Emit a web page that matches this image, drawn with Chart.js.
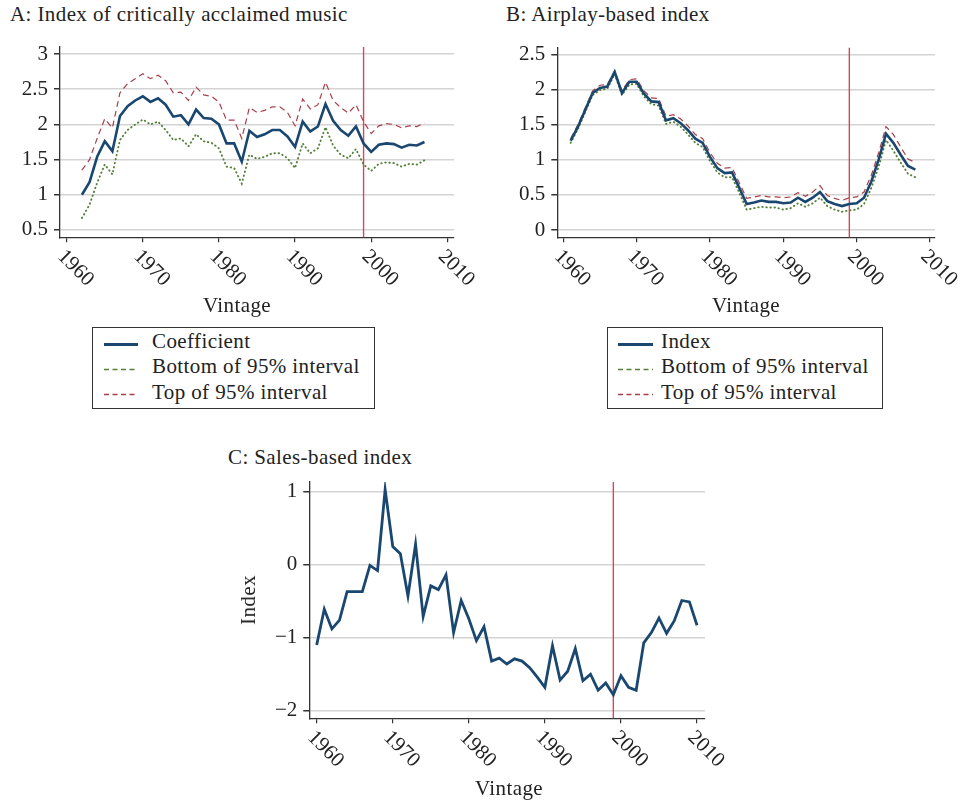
<!DOCTYPE html>
<html>
<head>
<meta charset="utf-8">
<script src="https://cdn.jsdelivr.net/npm/chart.js@4"></script>
<style>
  body { margin: 0; background: #fff; width: 965px; height: 803px; position: relative; overflow: hidden;
         font-family: "Liberation Serif", "Times New Roman", serif; color: #222; }
  canvas { position: absolute; }
  .txt { position: absolute; font-size: 21px; line-height: 24px; white-space: nowrap; letter-spacing: 0.4px; }
  .ctr { text-align: center; width: 120px; }
  .legend { position: absolute; border: 1.5px solid #333; box-sizing: border-box; }
  svg.key { position: absolute; }
</style>
</head>
<body>

<div class="txt" style="left:10px;top:2px">A: Index of critically acclaimed music</div>
<div class="txt" style="left:506px;top:2px">B: Airplay-based index</div>
<div class="txt" style="left:228px;top:445px">C: Sales-based index</div>

<canvas id="chartA" width="485" height="300" style="left:0;top:0"></canvas>
<canvas id="chartB" width="485" height="300" style="left:480px;top:0"></canvas>
<canvas id="chartC" width="530" height="343" style="left:220px;top:460px"></canvas>

<div class="txt ctr" style="left:177px;top:293px">Vintage</div>
<div class="txt ctr" style="left:686px;top:293px">Vintage</div>
<div class="txt ctr" style="left:449px;top:776px">Vintage</div>
<div class="txt" style="left:248px;top:600px;transform:translate(-50%,-50%) rotate(-90deg)">Index</div>

<!-- legend A -->
<div class="legend" style="left:92px;top:327px;width:283px;height:82px"></div>
<svg class="key" style="left:104px;top:341px" width="36" height="7"><line x1="0" y1="3.5" x2="34" y2="3.5" stroke="#1a476f" stroke-width="2.8"/></svg>
<svg class="key" style="left:104px;top:366px" width="36" height="7"><line x1="0" y1="3.5" x2="34" y2="3.5" stroke="#55803a" stroke-width="1.3" stroke-dasharray="5 3.5"/></svg>
<svg class="key" style="left:104px;top:391px" width="36" height="7"><line x1="0" y1="3.5" x2="34" y2="3.5" stroke="#a83f4c" stroke-width="1.3" stroke-dasharray="5 3.5"/></svg>
<div class="txt" style="left:152px;top:329px">Coefficient</div>
<div class="txt" style="left:152px;top:354px">Bottom of 95% interval</div>
<div class="txt" style="left:152px;top:380px">Top of 95% interval</div>

<!-- legend B -->
<div class="legend" style="left:607px;top:327px;width:276px;height:82px"></div>
<svg class="key" style="left:618px;top:341px" width="36" height="7"><line x1="0" y1="3.5" x2="35" y2="3.5" stroke="#1a476f" stroke-width="2.8"/></svg>
<svg class="key" style="left:618px;top:366px" width="36" height="7"><line x1="0" y1="3.5" x2="35" y2="3.5" stroke="#55803a" stroke-width="1.3" stroke-dasharray="5 3.5"/></svg>
<svg class="key" style="left:618px;top:391px" width="36" height="7"><line x1="0" y1="3.5" x2="35" y2="3.5" stroke="#a83f4c" stroke-width="1.3" stroke-dasharray="5 3.5"/></svg>
<div class="txt" style="left:661px;top:329px">Index</div>
<div class="txt" style="left:661px;top:354px">Bottom of 95% interval</div>
<div class="txt" style="left:661px;top:380px">Top of 95% interval</div>

<script>
// ---- data ----
const yearsA = [1962, 1963, 1964, 1965, 1966, 1967, 1968, 1969, 1970, 1971, 1972, 1973, 1974, 1975, 1976, 1977,
  1978, 1979, 1980, 1981, 1982, 1983, 1984, 1985, 1986, 1987, 1988, 1989, 1990, 1991, 1992, 1993, 1994, 1995,
  1996, 1997, 1998, 1999, 2000, 2001, 2002, 2003, 2004, 2005, 2006, 2007];
const coefA = [1.00, 1.18, 1.54, 1.76, 1.62, 2.12, 2.26, 2.34, 2.40, 2.32, 2.37, 2.28, 2.11, 2.13, 2.00, 2.21,
  2.09, 2.08, 2.00, 1.73, 1.73, 1.47, 1.91, 1.82, 1.86, 1.92, 1.92, 1.83, 1.68, 2.04, 1.90, 1.97, 2.29, 2.05,
  1.92, 1.84, 1.97, 1.73, 1.61, 1.71, 1.73, 1.72, 1.67, 1.71, 1.70, 1.75];
const lowA = [0.67, 0.86, 1.17, 1.43, 1.29, 1.78, 1.92, 2.00, 2.07, 2.00, 2.04, 1.92, 1.78, 1.80, 1.69, 1.86,
  1.76, 1.74, 1.66, 1.40, 1.38, 1.16, 1.57, 1.51, 1.54, 1.59, 1.59, 1.52, 1.38, 1.73, 1.59, 1.66, 1.96, 1.70,
  1.57, 1.52, 1.65, 1.43, 1.34, 1.44, 1.46, 1.45, 1.40, 1.44, 1.43, 1.49];
const highA = [1.35, 1.50, 1.80, 2.08, 1.95, 2.45, 2.58, 2.65, 2.72, 2.65, 2.70, 2.62, 2.45, 2.46, 2.34, 2.53,
  2.42, 2.40, 2.32, 2.06, 2.06, 1.80, 2.24, 2.17, 2.20, 2.25, 2.25, 2.17, 1.98, 2.36, 2.22, 2.28, 2.60, 2.34,
  2.24, 2.16, 2.28, 2.04, 1.87, 1.98, 2.01, 2.00, 1.95, 1.98, 1.97, 2.02];

const yearsB = [1961, 1962, 1963, 1964, 1965, 1966, 1967, 1968, 1969, 1970, 1971, 1972, 1973, 1974, 1975, 1976,
  1977, 1978, 1979, 1980, 1981, 1982, 1983, 1984, 1985, 1986, 1987, 1988, 1989, 1990, 1991, 1992, 1993, 1994,
  1995, 1996, 1997, 1998, 1999, 2000, 2001, 2002, 2003, 2004, 2005, 2006, 2007, 2008];
const indexB = [1.27, 1.47, 1.71, 1.95, 2.02, 2.04, 2.25, 1.95, 2.11, 2.11, 1.94, 1.83, 1.82, 1.56, 1.59, 1.52,
  1.42, 1.30, 1.24, 1.04, 0.88, 0.81, 0.82, 0.60, 0.37, 0.39, 0.42, 0.40, 0.40, 0.38, 0.39, 0.46, 0.40, 0.46,
  0.54, 0.41, 0.37, 0.34, 0.37, 0.38, 0.46, 0.69, 1.00, 1.37, 1.24, 1.07, 0.91, 0.86];
const lowB = [1.24, 1.44, 1.68, 1.92, 1.99, 2.01, 2.22, 1.92, 2.07, 2.08, 1.90, 1.79, 1.77, 1.51, 1.54, 1.47,
  1.36, 1.24, 1.18, 0.98, 0.82, 0.75, 0.75, 0.53, 0.29, 0.31, 0.33, 0.32, 0.32, 0.29, 0.31, 0.38, 0.33, 0.38,
  0.46, 0.34, 0.29, 0.26, 0.28, 0.29, 0.37, 0.60, 0.90, 1.28, 1.13, 0.96, 0.80, 0.75];
const highB = [1.30, 1.50, 1.74, 1.98, 2.06, 2.07, 2.26, 1.98, 2.14, 2.15, 1.98, 1.88, 1.87, 1.62, 1.64, 1.58,
  1.48, 1.36, 1.30, 1.10, 0.95, 0.88, 0.89, 0.67, 0.45, 0.47, 0.49, 0.47, 0.47, 0.46, 0.47, 0.53, 0.48, 0.54,
  0.63, 0.49, 0.45, 0.42, 0.46, 0.47, 0.54, 0.78, 1.10, 1.47, 1.36, 1.18, 1.01, 0.96];

const yearsC = [1960, 1961, 1962, 1963, 1964, 1965, 1966, 1967, 1968, 1969, 1970, 1971, 1972, 1973, 1974, 1975,
  1976, 1977, 1978, 1979, 1980, 1981, 1982, 1983, 1984, 1985, 1986, 1987, 1988, 1989, 1990, 1991, 1992, 1993,
  1994, 1995, 1996, 1997, 1998, 1999, 2000, 2001, 2002, 2003, 2004, 2005, 2006, 2007, 2008, 2009, 2010];
const salesC = [-1.10, -0.61, -0.88, -0.76, -0.37, -0.37, -0.37, -0.01, -0.08, 1.03,
  0.25, 0.15, -0.43, 0.28, -0.71, -0.29, -0.34, -0.14, -0.93, -0.49,
  -0.74, -1.04, -0.85, -1.32, -1.28, -1.36, -1.29, -1.32, -1.41, -1.54,
  -1.68, -1.11, -1.58, -1.46, -1.15, -1.59, -1.50, -1.72, -1.62, -1.78,
  -1.52, -1.68, -1.72, -1.07, -0.93, -0.73, -0.94, -0.77, -0.49, -0.51, -0.83];

const xTicks = [1960, 1970, 1980, 1990, 2000, 2010];
const yTicksA = [0.5, 1, 1.5, 2, 2.5, 3];
const yTicksB = [0, 0.5, 1, 1.5, 2, 2.5];
const yTicksC = [-2, -1, 0, 1];
const cutoffYear = 1999;

// ---- styling ----
const FONT = '"Liberation Serif", "Times New Roman", serif';
Chart.defaults.font.family = FONT;
Chart.defaults.font.size = 21;
Chart.defaults.color = '#222';

const navy = '#1a476f';
const green = '#55803a';
const maroon = '#a83f4c';

function series(label, years, values, style) {
  return Object.assign({
    label: label,
    data: years.map((x, i) => ({ x: x, y: values[i] })),
    pointRadius: 0,
    tension: 0,
    fill: false
  }, style);
}
const mainStyle = { borderColor: navy, borderWidth: 2.6 };
const lowStyle = { borderColor: green, borderWidth: 1.9, borderDash: [0.5, 3.6], borderCapStyle: 'round' };
const highStyle = { borderColor: maroon, borderWidth: 1.2, borderDash: [6, 4] };

// vertical reference line at the cutoff year
const cutoffLine = {
  id: 'cutoffLine',
  beforeDatasetsDraw(chart) {
    const { ctx, chartArea, scales } = chart;
    const px = scales.x.getPixelForValue(cutoffYear);
    ctx.save();
    ctx.strokeStyle = '#d4475c';
    ctx.lineWidth = 1.4;
    ctx.beginPath();
    ctx.moveTo(px, chartArea.top);
    ctx.lineTo(px, chartArea.bottom);
    ctx.stroke();
    ctx.restore();
  }
};

// x tick labels turned 45 degrees clockwise, as in the original
const slantedTicks = {
  id: 'slantedTicks',
  afterDraw(chart, args, opts) {
    const { ctx, chartArea, scales } = chart;
    ctx.save();
    ctx.font = '21px ' + FONT;
    ctx.fillStyle = '#222';
    ctx.textAlign = 'left';
    ctx.textBaseline = 'middle';
    scales.x.ticks.forEach(t => {
      const px = scales.x.getPixelForValue(t.value);
      ctx.save();
      ctx.translate(px + opts.dx, chartArea.bottom + opts.dy);
      ctx.rotate(Math.PI / 4);
      ctx.fillText(String(t.value), 0, 0);
      ctx.restore();
    });
    ctx.restore();
  }
};

function fmt(v) {
  return v < 0 ? '\u2212' + Math.abs(v) : String(v);
}

function makeChart(id, datasets, o) {
  return new Chart(document.getElementById(id), {
    type: 'line',
    data: { datasets: datasets },
    plugins: [cutoffLine, slantedTicks],
    options: {
      responsive: false,
      animation: false,
      layout: { padding: { top: o.top, right: o.right, left: 0, bottom: 0 } },
      plugins: {
        legend: { display: false },
        tooltip: { enabled: false },
        slantedTicks: { dx: -6, dy: 16 }
      },
      scales: {
        x: {
          type: 'linear',
          min: o.xMin,
          max: o.xMax,
          afterBuildTicks: s => { s.ticks = xTicks.map(v => ({ value: v })); },
          afterFit: s => { s.height = o.xHeight; },
          ticks: { display: false },
          grid: { drawOnChartArea: false, drawTicks: true, tickLength: 5, color: '#333', lineWidth: 1.2 },
          border: { color: '#333', width: 1.3 }
        },
        y: {
          min: o.yMin,
          max: o.yMax,
          afterBuildTicks: s => { s.ticks = o.yTicks.map(v => ({ value: v })); },
          afterFit: s => { s.width = o.yWidth; },
          ticks: { padding: 6, callback: v => fmt(v), autoSkip: false },
          grid: { color: '#d4d4d4', lineWidth: 1.5, tickColor: '#333', tickLength: 6, drawTicks: true },
          border: { color: '#333', width: 1.3 }
        }
      }
    }
  });
}

makeChart('chartA', [
  series('Coefficient', yearsA, coefA, mainStyle),
  series('Bottom of 95% interval', yearsA, lowA, lowStyle),
  series('Top of 95% interval', yearsA, highA, highStyle)
], { top: 47, right: 31, yWidth: 60, xHeight: 62.7, xMin: 1959.12, xMax: 2010.88, yMin: 0.396, yMax: 3.1, yTicks: yTicksA });

makeChart('chartB', [
  series('Index', yearsB, indexB, mainStyle),
  series('Bottom of 95% interval', yearsB, lowB, lowStyle),
  series('Top of 95% interval', yearsB, highB, highStyle)
], { top: 47.7, right: 30, yWidth: 77.3, xHeight: 62.7, xMin: 1959.18, xMax: 2010.68, yMin: -0.104, yMax: 2.594, yTicks: yTicksB });

makeChart('chartC', [
  series('Index', yearsC, salesC, { borderColor: navy, borderWidth: 2.8 })
], { top: 22, right: 45, yWidth: 89.3, xHeight: 84.7, xMin: 1959.03, xMax: 2011.05, yMin: -2.104, yMax: 1.133, yTicks: yTicksC });
</script>
</body>
</html>
